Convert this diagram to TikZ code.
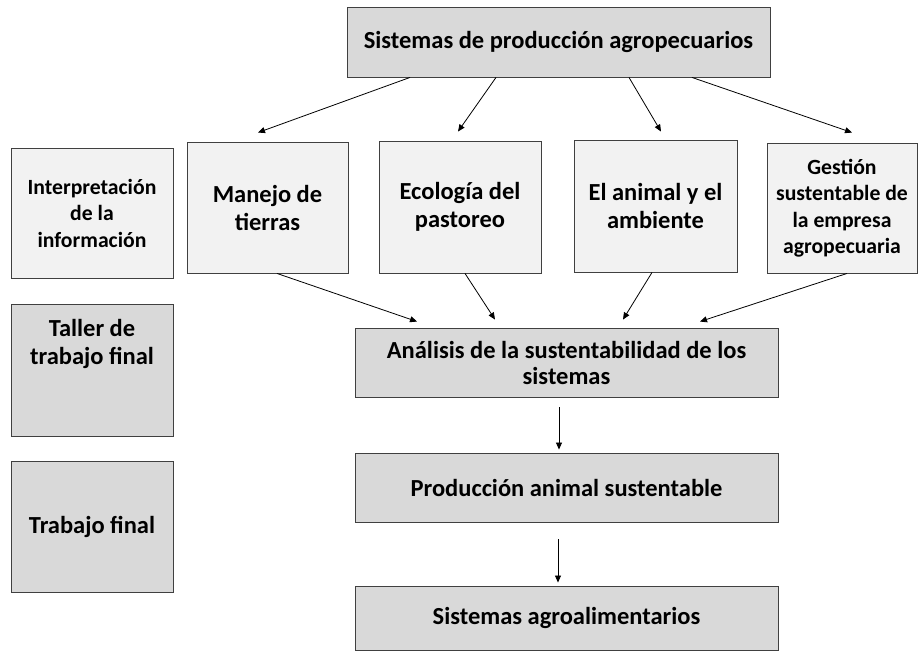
\documentclass[tikz,border=0pt]{standalone}
\usepackage{fontspec}
\setmainfont{Carlito}
\usetikzlibrary{arrows.meta,calc}
\definecolor{boxdark}{HTML}{D9D9D9}
\definecolor{boxlight}{HTML}{F2F2F2}
\definecolor{edge}{HTML}{404040}
\begin{document}
\begin{tikzpicture}[x=1pt,y=-1pt,
  box/.style={draw=edge,line width=0.9pt,align=center,inner sep=2pt,font=\bfseries},
  dark/.style={box,fill=boxdark},
  light/.style={box,fill=boxlight},
  big/.style={font=\bfseries\fontsize{24.5}{28}\selectfont},
  mid/.style={font=\bfseries\fontsize{24.5}{26}\selectfont},
  small/.style={font=\bfseries\fontsize{21.7}{26.5}\selectfont},
  conn/.style={line width=0.8pt,-{Triangle[length=7pt,width=6pt]}}]
\useasboundingbox (0,0) rectangle (919,652);
% top
\node[dark,big,minimum width=423pt,minimum height=70pt] (top) at (558.5,42) {Sistemas de producción agropecuarios};
% second row
\node[light,small,minimum width=162pt,minimum height=130pt] (interp) at (92,213) {Interpretación\\de la\\información};
\node[light,big,minimum width=161pt,minimum height=131pt] (manejo) at (267.5,207.5) {Manejo de\\tierras};
\node[light,big,minimum width=162pt,minimum height=132pt] (eco) at (460,207) {Ecología del\\pastoreo};
\node[light,big,minimum width=163pt,minimum height=132pt] (animal) at (655.5,206) {El animal y el\\ambiente};
\node[light,small,minimum width=150pt,minimum height=130pt] (gestion) at (842,208) {Gestión\\sustentable de\\la empresa\\agropecuaria};
% left column
\node[dark,big,minimum width=162pt,minimum height=132pt] (taller) at (92,370) {Taller de\\trabajo final\\\mbox{}\\\mbox{}};
\node[dark,big,minimum width=162pt,minimum height=131pt] (trabajo) at (92,526.5) {Trabajo final};
% central column
\node[dark,mid,minimum width=423pt,minimum height=69pt] (analisis) at (566.5,362.5) {Análisis de la sustentabilidad de los\\sistemas};
\node[dark,mid,minimum width=423pt,minimum height=69pt] (prod) at (566.5,487.5) {Producción animal sustentable};
\node[dark,mid,minimum width=423pt,minimum height=64pt] (agro) at (566.5,618) {Sistemas agroalimentarios};
% connectors from top
\draw[conn] ([xshift=-148.5pt]top.south) -- ([xshift=-9.5pt,yshift=9pt]manejo.north);
\draw[conn] ([xshift=-62.5pt]top.south) -- ([xshift=-2pt,yshift=9pt]eco.north);
\draw[conn] ([xshift=70.5pt]top.south) -- ([xshift=5.5pt,yshift=8pt]animal.north);
\draw[conn] ([xshift=133.5pt]top.south) -- ([xshift=10pt,yshift=10pt]gestion.north);
% connectors to analisis
\draw[conn] ([xshift=9.5pt]manejo.south) -- ([xshift=-149.5pt,yshift=6pt]analisis.north);
\draw[conn] ([xshift=5pt]eco.south) -- ([xshift=-71.5pt,yshift=8pt]analisis.north);
\draw[conn] ([xshift=-3.5pt]animal.south) -- ([xshift=56.5pt,yshift=8pt]analisis.north);
\draw[conn] ([xshift=5pt]gestion.south) -- ([xshift=133.5pt,yshift=6pt]analisis.north);
% vertical chain
\draw[conn] ([xshift=-7.5pt,yshift=-10pt]analisis.south) -- ([xshift=-7.5pt,yshift=3pt]prod.north);
\draw[conn] ([xshift=-8.5pt,yshift=-17pt]prod.south) -- ([xshift=-8.5pt,yshift=3pt]agro.north);
\end{tikzpicture}
\end{document}
